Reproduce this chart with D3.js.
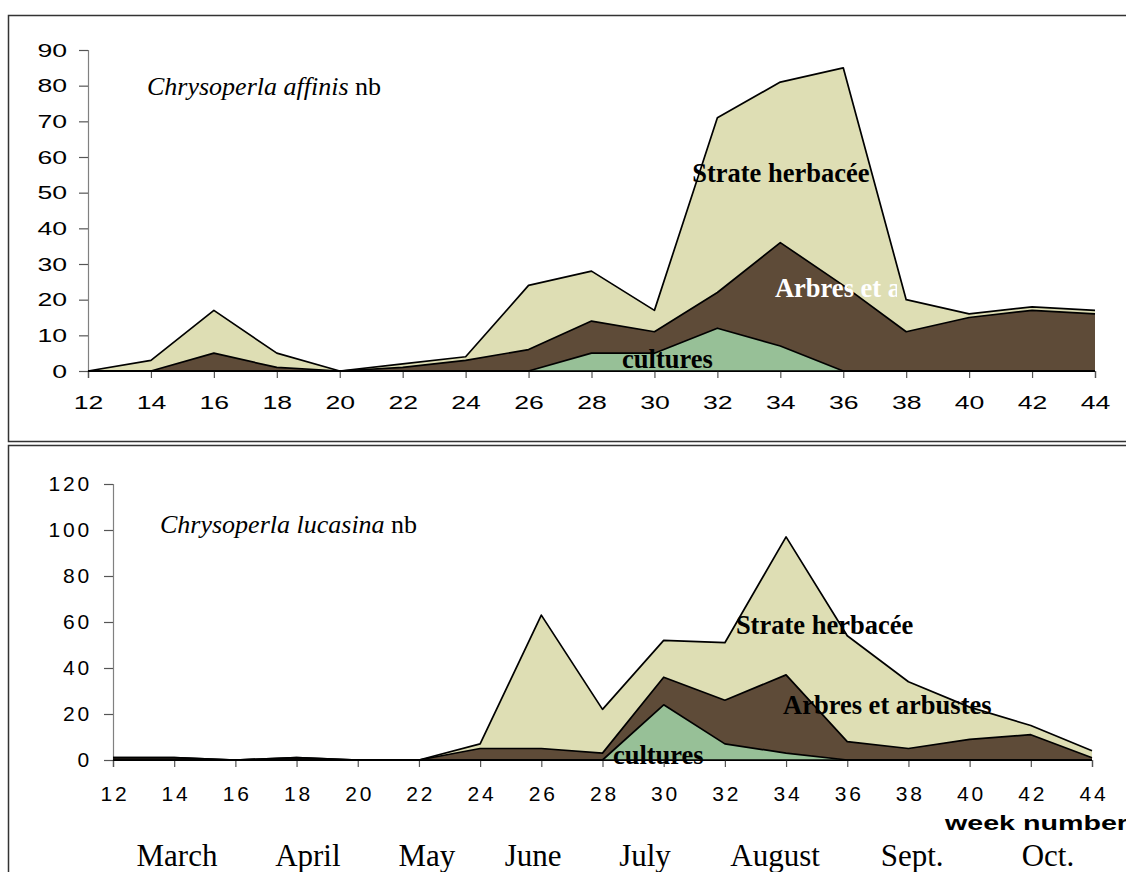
<!DOCTYPE html>
<html>
<head>
<meta charset="utf-8">
<script src="https://cdn.jsdelivr.net/npm/d3@7"></script>
<style>
  html, body { margin: 0; padding: 0; background: #fff; }
  svg { display: block; }
</style>
</head>
<body>
<svg id="chart" width="1126" height="872"></svg>
<script>
// Sampling weeks (every two weeks, March to October)
const weeks = [12, 14, 16, 18, 20, 22, 24, 26, 28, 30, 32, 34, 36, 38, 40, 42, 44];

// Chrysoperla affinis: counts per habitat layer
const affinisCultures = [0, 0, 0, 0, 0, 0, 0, 0, 5, 5, 12, 7, 0, 0, 0, 0, 0];
const affinisArbres   = [0, 0, 5, 1, 0, 1, 3, 6, 9, 6, 10, 29, 24, 11, 15, 17, 16];
const affinisHerbacee = [0, 3, 12, 4, 0, 1, 1, 18, 14, 6, 49, 45, 61, 9, 1, 1, 1];

// Chrysoperla lucasina: counts per habitat layer
const lucasinaCultures = [0, 0, 0, 0, 0, 0, 0, 0, 0, 24, 7, 3, 0, 0, 0, 0, 0];
const lucasinaArbres   = [1, 1, 0, 1, 0, 0, 5, 5, 3, 12, 19, 34, 8, 5, 9, 11, 1];
const lucasinaHerbacee = [0, 0, 0, 0, 0, 0, 2, 58, 19, 16, 25, 60, 46, 29, 14, 4, 3];

const layerKeys = ["cultures", "arbres", "herbacee"];
const layerColors = { cultures: "#97c097", arbres: "#5e4b38", herbacee: "#dedeb4" };

const affinisTicks = [0, 10, 20, 30, 40, 50, 60, 70, 80, 90];
const lucasinaTicks = [0, 20, 40, 60, 80, 100, 120];

const months = ["March", "April", "May", "June", "July", "August", "Sept.", "Oct."];
const monthWeeks = [14.09, 18.37, 22.26, 25.73, 29.39, 33.64, 38.12, 42.56];

const svg = d3.select("#chart");

// widen glyphs horizontally, keeping the anchor
function widen(sel, factor) {
  sel.each(function () {
    const len = this.getComputedTextLength();
    d3.select(this).attr("textLength", len * factor).attr("lengthAdjust", "spacingAndGlyphs");
  });
}

// panel frames
svg.append("rect").attr("x", 8.5).attr("y", 15.5).attr("width", 1140).attr("height", 426)
  .attr("fill", "none").attr("stroke", "#333").attr("stroke-width", 1.5);
svg.append("rect").attr("x", 8.5).attr("y", 445.5).attr("width", 1140).attr("height", 460)
  .attr("fill", "none").attr("stroke", "#333").attr("stroke-width", 1.5);

function styleTicks(sel, cfg) {
  sel.attr("font-family", "'Liberation Sans', Arial, sans-serif")
    .attr("font-size", cfg.fontSize).attr("fill", "#000");
  if (cfg.spacing) sel.style("letter-spacing", cfg.spacing + "px");
  if (cfg.stretch) sel.call(widen, cfg.stretch);
}

function drawPanel(cfg) {
  const rows = weeks.map((w, i) => ({
    week: w,
    cultures: cfg.cultures[i],
    arbres: cfg.arbres[i],
    herbacee: cfg.herbacee[i]
  }));
  const x = d3.scaleLinear().domain([12, 44]).range(cfg.xRange);
  const y = d3.scaleLinear().domain([0, cfg.yMax]).range(cfg.yRange);

  const g = svg.append("g");

  const stacked = d3.stack().keys(layerKeys)(rows);
  const area = d3.area()
    .x(d => x(d.data.week))
    .y0(d => y(d[0]))
    .y1(d => y(d[1]));
  const topLine = d3.line()
    .x(d => x(d.data.week))
    .y(d => y(d[1]));

  // y axis
  const yAxis = g.append("g")
    .attr("transform", `translate(${cfg.xRange[0]},0)`)
    .call(d3.axisLeft(y).tickValues(cfg.yTicks).tickSize(9).tickPadding(cfg.yPad));
  yAxis.select(".domain").attr("stroke", "#808080").attr("stroke-width", 1.2);
  yAxis.selectAll(".tick line").attr("stroke", "#555").attr("stroke-width", 1.2);
  yAxis.selectAll("text").call(styleTicks, cfg);

  // x axis
  const xAxis = g.append("g")
    .attr("transform", `translate(0,${cfg.yRange[0]})`)
    .call(d3.axisBottom(x).tickValues(weeks).tickSize(7).tickPadding(cfg.xPad));
  xAxis.select(".domain").attr("stroke", "#000").attr("stroke-width", 1.2);
  xAxis.selectAll(".tick line").attr("stroke", "#555").attr("stroke-width", 1.2);
  xAxis.selectAll("text").call(styleTicks, cfg)
    .attr("dx", cfg.spacing ? cfg.spacing / 2 : 0);

  // stacked areas, herbaceous layer at the back
  g.selectAll("path.layer")
    .data(stacked.slice().reverse())
    .join("path")
    .attr("class", "layer")
    .attr("d", area)
    .attr("fill", d => layerColors[d.key])
    .attr("stroke", "none");

  g.selectAll("path.edge")
    .data(stacked)
    .join("path")
    .attr("class", "edge")
    .attr("d", topLine)
    .attr("fill", "none")
    .attr("stroke", "#000")
    .attr("stroke-width", 1.7)
    .attr("stroke-linejoin", "round");

  g.append("line")
    .attr("x1", cfg.xRange[0]).attr("x2", cfg.xRange[1])
    .attr("y1", y(0)).attr("y2", y(0))
    .attr("stroke", "#000").attr("stroke-width", 1.7);

  // species title
  const t = g.append("text")
    .attr("x", cfg.titleX).attr("y", cfg.titleY)
    .attr("font-family", "'Liberation Serif', 'Times New Roman', serif")
    .attr("font-size", 26).attr("fill", "#000");
  t.append("tspan").attr("font-style", "italic").text(cfg.title);
  t.append("tspan").text(" nb");

  // layer labels
  cfg.labels.forEach((lb, i) => {
    const txt = g.append("text")
      .attr("x", x(lb.week)).attr("y", y(lb.value))
      .attr("font-family", "'Liberation Serif', 'Times New Roman', serif")
      .attr("font-weight", "bold").attr("font-size", 26.5)
      .attr("fill", lb.color)
      .text(lb.text);
    if (lb.clipTo) {
      const id = cfg.id + "clip" + i;
      svg.append("clipPath").attr("id", id)
        .append("rect").attr("x", 0).attr("y", 0).attr("width", lb.clipTo).attr("height", 872);
      txt.attr("clip-path", `url(#${id})`);
    }
  });

  return { x, y };
}

drawPanel({
  id: "aff",
  cultures: affinisCultures, arbres: affinisArbres, herbacee: affinisHerbacee,
  xRange: [88, 1095], yRange: [371, 50], yMax: 90, yTicks: affinisTicks,
  fontSize: 19, stretch: 1.4, spacing: 0, yPad: 12, xPad: 18,
  title: "Chrysoperla affinis", titleX: 147, titleY: 95,
  labels: [
    { text: "Strate herbacée", week: 31.2, value: 53, color: "#000" },
    { text: "Arbres et arbustes", week: 33.83, value: 20.7, color: "#fff", clipTo: 897 },
    { text: "cultures", week: 28.97, value: 0.8, color: "#000" }
  ]
});

const lower = drawPanel({
  id: "luc",
  cultures: lucasinaCultures, arbres: lucasinaArbres, herbacee: lucasinaHerbacee,
  xRange: [113, 1092], yRange: [760, 484], yMax: 120, yTicks: lucasinaTicks,
  fontSize: 21, stretch: 0, spacing: 2.8, yPad: 12, xPad: 19,
  title: "Chrysoperla lucasina", titleX: 160, titleY: 533,
  labels: [
    { text: "Strate herbacée", week: 32.36, value: 55, color: "#000" },
    { text: "Arbres et arbustes", week: 33.9, value: 20, color: "#000" },
    { text: "cultures", week: 28.34, value: -1.7, color: "#000" }
  ]
});

// axis title and month labels
svg.append("text")
  .attr("x", 945).attr("y", 830)
  .attr("font-family", "'Liberation Sans', Arial, sans-serif")
  .attr("font-weight", "bold").attr("font-size", 21)
  .attr("textLength", 183).attr("lengthAdjust", "spacingAndGlyphs")
  .attr("fill", "#000").text("week number");

svg.selectAll("text.month")
  .data(months)
  .join("text")
  .attr("class", "month")
  .attr("x", (d, i) => lower.x(monthWeeks[i]))
  .attr("y", 866)
  .attr("text-anchor", "middle")
  .attr("font-family", "'Liberation Serif', 'Times New Roman', serif")
  .attr("font-size", 31)
  .attr("fill", "#000")
  .text(d => d);
</script>
</body>
</html>
